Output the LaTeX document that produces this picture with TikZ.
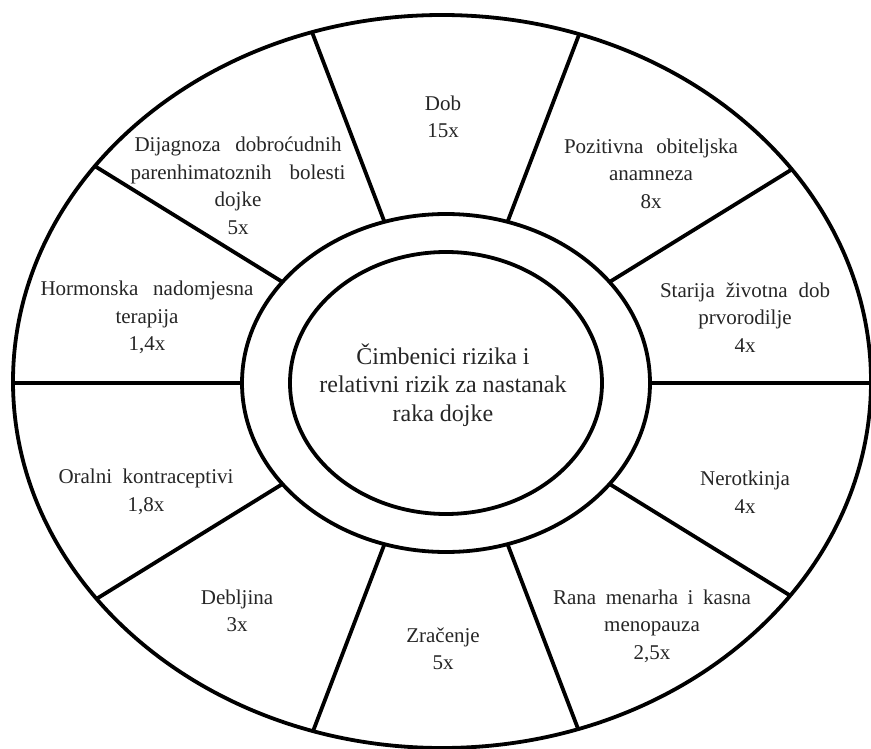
\documentclass[tikz,border=0pt]{standalone}
\usepackage{fontspec}
\setmainfont{Liberation Serif}
\begin{document}
\begin{tikzpicture}[x=1pt,y=-1pt,
  ring/.style={line width=3.8pt, draw=black},
  seg/.style={font=\fontsize{21}{27.5}\selectfont, align=center, inner sep=0pt, text=black!85},
  mid/.style={font=\fontsize{24}{28.5}\selectfont, align=center, inner sep=0pt, text=black!85}]
\useasboundingbox (0,0) rectangle (871,749);
\fill[white] (0,0) rectangle (871,749);
\coordinate (C) at (446,383);
\coordinate (O) at (442,381.5);
\begin{scope}
  \clip (O) ellipse [x radius=429, y radius=366.5];
  \foreach \a in {0,31.7,69.1,110.9,148.3,180,211.7,249.1,290.9,328.3}
    \draw[ring] (C) -- ++(\a:600);
\end{scope}
\draw[ring] (O) ellipse [x radius=429, y radius=366.5];
\draw[ring, fill=white] (C) ellipse [x radius=204, y radius=169];
\draw[ring] (C) ellipse [x radius=156, y radius=131];
\node[seg] (dob) at (443,117) {Dob\\15x};
\node[seg] (dij) at (238,186) {\makebox[207pt][s]{Dijagnoza dobroćudnih}\\\makebox[215pt][s]{parenhimatoznih bolesti}\\dojke\\5x};
\node[seg] (poz) at (651,173.5) {\makebox[174pt][s]{Pozitivna obiteljska}\\anamneza\\8x};
\node[seg] (hor) at (147,317.5) {\makebox[213pt][s]{Hormonska nadomjesna}\\terapija\\1,4x};
\node[seg] (sta) at (745,317.5) {\makebox[170pt][s]{Starija životna dob}\\prvorodilje\\4x};
\node[seg] (ora) at (146,492) {\makebox[175pt][s]{Oralni kontraceptivi}\\1,8x};
\node[seg] (ner) at (745,492) {Nerotkinja\\4x};
\node[seg] (deb) at (237,611) {Debljina\\3x};
\node[seg] (zra) at (443,649) {Zračenje\\5x};
\node[seg] (ran) at (652,626) {\makebox[198pt][s]{Rana menarha i kasna}\\menopauza\\2,5x};
\node[mid] (ctr) at (443,385) {Čimbenici rizika i\\relativni rizik za nastanak\\raka dojke};
\end{tikzpicture}
\end{document}
